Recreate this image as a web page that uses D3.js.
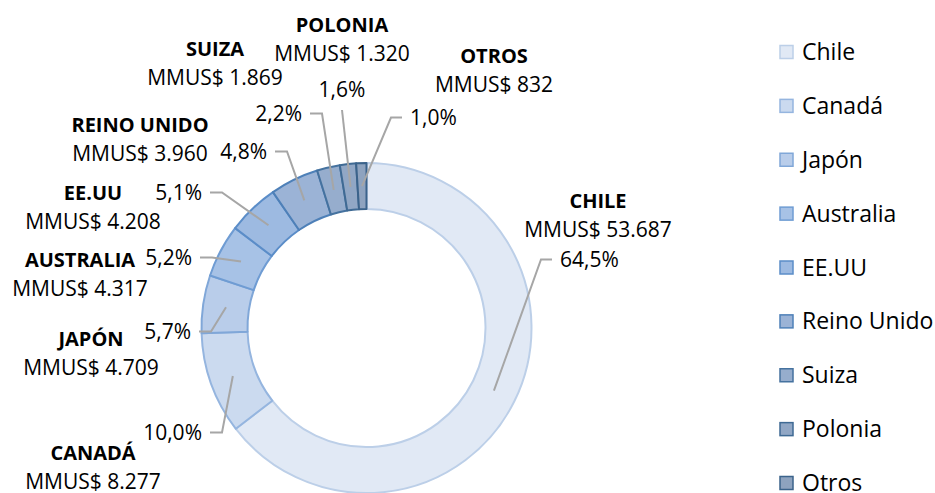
<!DOCTYPE html>
<html lang="es">
<head>
    <meta charset="UTF-8">
    <title>Exportaciones por destino</title>
    <script src="https://d3js.org/d3.v7.min.js"></script>
    <style>
        body { margin: 0; background: #fff; }
        text { font-family: "Open Sans", "Noto Sans", sans-serif; fill: #000; }
    </style>
</head>
<body>
    <div id="chart"></div>

    <script>
        // Datos
        const paises = ["Chile", "Canadá", "Japón", "Australia", "EE.UU", "Reino Unido", "Suiza", "Polonia", "Otros"];
        const montos = [53687, 8277, 4709, 4317, 4208, 3960, 1869, 1320, 832];

        // Colores (relleno y borde) por país
        const rellenos = ["#e1e9f5", "#cbdaef", "#b9cdea", "#a7c2e6", "#9dbae1", "#9bb3d6", "#96adcd", "#91a7c5", "#8ea3bf"];
        const bordes = ["#bccfe8", "#95b5df", "#80a7d8", "#6f9cd3", "#5b8dc8", "#4e80b8", "#45729f", "#3f6a94", "#3b638b"];

        // Posición manual de las etiquetas (como en el gráfico original)
        const etiquetasNombre = [
            { x: 598, y: 208 }, { x: 93, y: 460 }, { x: 91, y: 346 }, { x: 80, y: 267 },
            { x: 93, y: 200 }, { x: 140, y: 132 }, { x: 215, y: 56 }, { x: 342, y: 32 }, { x: 494, y: 63 }
        ];
        const etiquetasPct = [
            { x: 560, y: 267, a: "start" }, { x: 202, y: 440, a: "end" }, { x: 191, y: 339, a: "end" },
            { x: 192, y: 265, a: "end" }, { x: 202, y: 200, a: "end" }, { x: 267, y: 159, a: "end" },
            { x: 302, y: 121, a: "end" }, { x: 342, y: 97, a: "middle" }, { x: 410, y: 125, a: "start" }
        ];

        const W = 935, H = 493;
        const cx = 366.5, cy = 328, R = 165, r = 119;

        const locale = d3.formatLocale({ decimal: ",", thousands: ".", grouping: [3], currency: ["", ""] });
        const fmtMonto = locale.format(",d");
        const fmtPct = locale.format(".1%");

        const total = d3.sum(montos);
        const datos = paises.map((p, i) => ({ pais: p, monto: montos[i], i }));

        const svg = d3.select("#chart").append("svg")
            .attr("width", W)
            .attr("height", H);

        const pie = d3.pie().sort(null).value(d => d.monto);
        const arcs = pie(datos);

        const arc = d3.arc().innerRadius(r).outerRadius(R);
        const arcMedio = d3.arc().innerRadius(142).outerRadius(142);

        const g = svg.append("g").attr("transform", `translate(${cx},${cy})`);

        g.selectAll("path.slice")
            .data(arcs)
            .enter()
            .append("path")
            .attr("class", "slice")
            .attr("d", arc)
            .attr("fill", d => rellenos[d.data.i])
            .attr("stroke", d => bordes[d.data.i])
            .attr("stroke-width", 2)
            .attr("stroke-linejoin", "round");

        // Líneas guía
        const lineas = svg.append("g");
        arcs.forEach(d => {
            const [px, py] = arcMedio.centroid(d);
            const p = etiquetasPct[d.data.i];
            let pts;
            if (p.a === "end") {
                pts = [[p.x + 8, p.y - 7.5], [p.x + 20, p.y - 7.5], [cx + px, cy + py]];
            } else if (p.a === "start") {
                pts = [[p.x - 8, p.y - 7.5], [p.x - 19, p.y - 7.5], [cx + px, cy + py]];
            } else {
                pts = [[p.x, p.y + 13], [cx + px, cy + py]];
            }
            lineas.append("polyline")
                .attr("points", pts.map(q => q.join(",")).join(" "))
                .attr("fill", "none")
                .attr("stroke", "#a6a6a6")
                .attr("stroke-width", 2);
        });

        // Etiquetas de porcentaje
        svg.append("g").selectAll("text")
            .data(arcs)
            .enter()
            .append("text")
            .attr("x", d => etiquetasPct[d.data.i].x)
            .attr("y", d => etiquetasPct[d.data.i].y)
            .attr("text-anchor", d => etiquetasPct[d.data.i].a)
            .attr("font-size", 21)
            .text(d => fmtPct(d.data.monto / total));

        // Etiquetas de nombre y monto
        const nombres = svg.append("g").selectAll("g")
            .data(datos)
            .enter()
            .append("g");

        nombres.append("text")
            .attr("x", d => etiquetasNombre[d.i].x)
            .attr("y", d => etiquetasNombre[d.i].y)
            .attr("text-anchor", "middle")
            .attr("font-size", 20)
            .attr("font-weight", "bold")
            .text(d => d.pais.toUpperCase());

        nombres.append("text")
            .attr("x", d => etiquetasNombre[d.i].x)
            .attr("y", d => etiquetasNombre[d.i].y + 29)
            .attr("text-anchor", "middle")
            .attr("font-size", 21)
            .text(d => "MMUS$ " + fmtMonto(d.monto));

        // Leyenda
        const yLeyenda = d3.scalePoint()
            .domain(paises)
            .range([52, 483]);

        const leyenda = svg.append("g").selectAll("g")
            .data(datos)
            .enter()
            .append("g")
            .attr("transform", d => `translate(779,${yLeyenda(d.pais)})`);

        leyenda.append("rect")
            .attr("x", 1)
            .attr("y", -6.5)
            .attr("width", 13)
            .attr("height", 13)
            .attr("fill", d => rellenos[d.i])
            .attr("stroke", d => bordes[d.i])
            .attr("stroke-width", 1.5);

        leyenda.append("text")
            .attr("x", 23)
            .attr("y", 0)
            .attr("dy", "0.35em")
            .attr("font-size", 23)
            .text(d => d.pais);
    </script>
</body>
</html>
